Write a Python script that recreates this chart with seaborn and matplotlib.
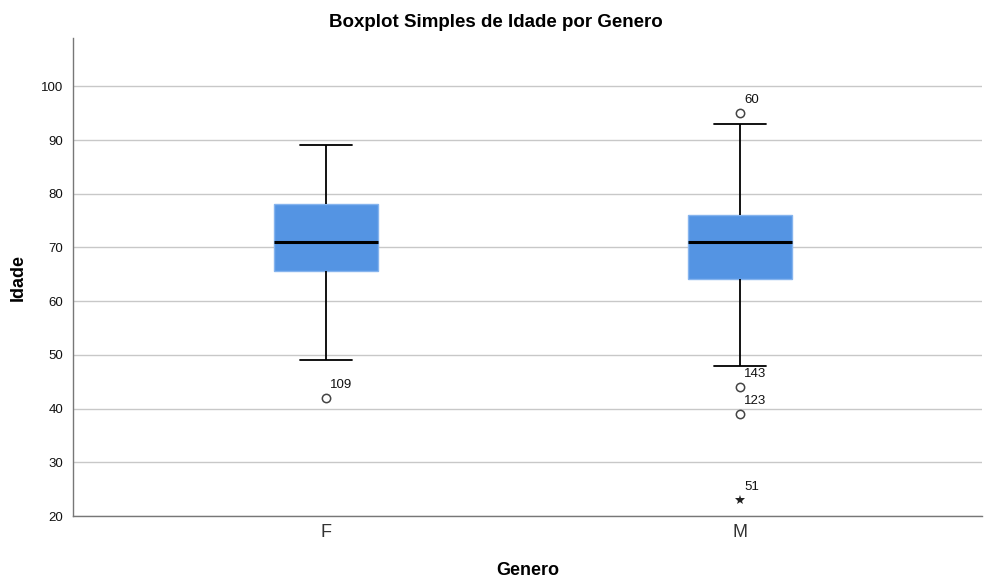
import matplotlib
matplotlib.use("Agg")
import matplotlib.pyplot as plt
import seaborn as sns
import pandas as pd

# Five-number summaries of age by gender (min whisker, Q1, median, Q3, max whisker)
generos = ["F", "M"]
whisker_low = [49, 48]
q1 = [65.7, 64.2]
median = [71, 71]
q3 = [78, 76]
whisker_high = [89, 93]

# Outliers: gender, age, case id, kind
out_genero = ["F", "M", "M", "M", "M"]
out_idade = [42, 95, 44, 39, 23]
out_caso = ["109", "60", "143", "123", "51"]
out_tipo = ["o", "o", "o", "o", "*"]

rows = []
for g, lo, a, m, b, hi in zip(generos, whisker_low, q1, median, q3, whisker_high):
    for v in (lo, a, m, b, hi):
        rows.append({"Genero": g, "Idade": v})
df = pd.DataFrame(rows)

sns.set_style("white")
plt.rcParams["font.family"] = ["Liberation Sans", "DejaVu Sans"]

fig = plt.figure(figsize=(9.84, 5.80), dpi=100)
ax = fig.add_axes([0.0742, 0.1103, 0.9238, 0.8242])

box_color = "#5494E3"
sns.boxplot(
    data=df, x="Genero", y="Idade", order=generos, whis=(0, 100),
    width=0.25, color=box_color, linecolor="black", linewidth=1.3,
    boxprops=dict(facecolor=box_color, edgecolor="#86b4ee", linewidth=1.0),
    medianprops=dict(color="black", linewidth=2.2),
    whiskerprops=dict(color="black", linewidth=1.3),
    capprops=dict(color="black", linewidth=1.3),
    showfliers=False, ax=ax, zorder=3,
)

pos = {g: i for i, g in enumerate(generos)}
for g, v, c, t in zip(out_genero, out_idade, out_caso, out_tipo):
    x = pos[g]
    if t == "o":
        ax.plot(x, v, marker="o", ms=6, mfc="white", mec="#444444", mew=1.1, zorder=4)
    else:
        ax.plot(x, v, marker="*", ms=7, color="#222222", mew=0, zorder=4)
    ax.annotate(c, (x, v), xytext=(3, 5), textcoords="offset points",
                fontsize=9.5, color="#111111", ha="left", va="bottom")

ax.set_xlim(-0.611, 1.585)
ax.set_ylim(20, 109)
ax.set_yticks(range(20, 101, 10))
ax.yaxis.grid(True, color="#c8c8c8", linewidth=1.0, zorder=0)
ax.set_axisbelow(True)
for s in ("top", "right"):
    ax.spines[s].set_visible(False)
for s in ("left", "bottom"):
    ax.spines[s].set_color("#777777")
    ax.spines[s].set_linewidth(1.0)
ax.tick_params(axis="y", labelsize=9.5, length=0, pad=7, colors="#111111")
ax.tick_params(axis="x", labelsize=13, length=0, pad=6, colors="#333333")

ax.set_xlabel("Genero", fontsize=13, fontweight="bold", labelpad=15, color="#000000")
ax.set_ylabel("Idade", fontsize=13, fontweight="bold", labelpad=10, color="#000000")
fig.text(0.504, 0.961, "Boxplot Simples de Idade por Genero", ha="center",
         va="center", fontsize=13.5, fontweight="bold", color="#000000")

fig.savefig("out.png", dpi=100)
